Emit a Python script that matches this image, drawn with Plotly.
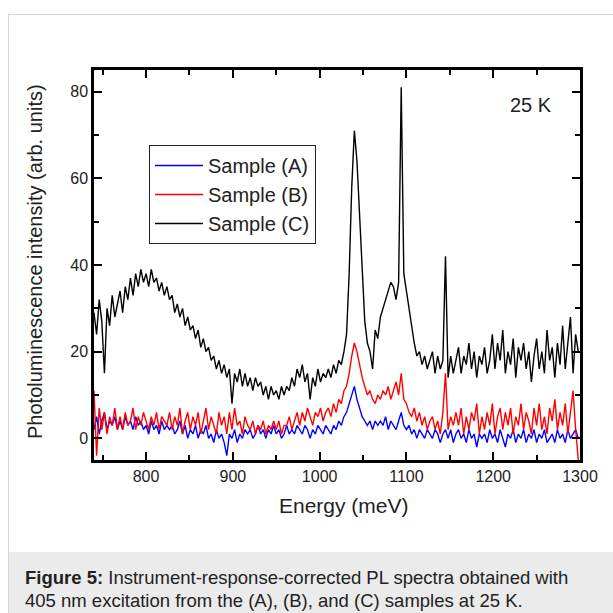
import plotly.graph_objects as go

# energy grid of the spectra (meV), 3 meV sampling
energy = list(range(740, 1299, 3))

# Sample (A) - blue
sample_a = [
    2, 5, 1, 4, 6, 2, 4, 3, 5, 2,
    4, 2, 5, 3, 4, 2, 5, 3, 4, 2,
    3, 1, 4, 2, 3, 1, 4, 2, 3, 2,
    3, 1, 2, 4, 1, 3, 0, 2, 1, 3,
    0, 2, 1, 3, 0, 1, -1, 2, 0, 1,
    -1, -4, 1, 0, 2, -1, 1, 0, 2, 1,
    2, 0, 1, 3, 1, 2, 0, 2, 1, 3,
    1, 2, 0, 1, 3, 1, 2, 1, 3, 2,
    1, 3, 2, 0, 2, 1, 3, 2, 1, 3,
    2, 1, 3, 2, 4, 3, 5, 6, 8, 10,
    12, 9, 7, 5, 4, 3, 4, 2, 4, 3,
    4, 3, 5, 2, 4, 3, 2, 4, 6, 3,
    2, 3, 1, 2, 0, 2, 1, 0, 2, 1,
    0, 2, 1, -1, 1, 2, 0, 2, -1, 1,
    2, 0, 1, -1, 2, 0, 1, -2, 1, 0,
    1, -1, 2, 0, 1, -1, 2, 0, -2, 1,
    0, 2, -1, 1, 0, 2, -1, 1, 0, 2,
    -1, 1, 0, 2, -1, 0, 1, -1, 2, 0,
    1, -1, 2, 0, 1, 2, 0,
]

# Sample (B) - red
sample_b = [
    11, -4, 7, 2, 6, 1, 5, 3, 7, 2,
    5, 2, 6, 3, 4, 7, 2, 5, 3, 6,
    4, 2, 5, 3, 6, 2, 5, 4, 3, 6,
    2, 5, 3, 7, 1, 4, 6, 2, 5, 3,
    6, 1, 4, 7, 2, 5, 3, 1, 6, 3,
    5, 1, 6, 2, 7, 3, 4, 1, 5, 3,
    2, 4, 1, 3, 2, 4, 1, 3, 2, 4,
    2, 4, 1, 3, 3, 5, 2, 4, 6, 3,
    6, 4, 7, 5, 3, 6, 5, 7, 4, 6,
    7, 5, 8, 6, 9, 8, 11, 12, 15, 19,
    22, 20, 17, 14, 12, 10, 11, 9, 8, 10,
    9, 11, 10, 12, 9, 11, 13, 10, 15, 9,
    8, 6, 5, 7, 4, 6, 3, 5, 2, 4,
    5, 2, 4, 1, 6, 15, 2, 5, 3, 6,
    3, 7, 1, 5, 2, 6, 4, 8, 1, 5,
    2, 6, 3, 8, 1, 5, 7, 2, 6, 3,
    7, 1, 5, 3, 8, 2, 6, 4, 1, 7,
    3, 8, 2, 5, 1, 7, 4, 9, 2, 6,
    3, 8, 1, 6, 11, 2, -5,
]

# Sample (C) - black
sample_c = [
    29, 24, 32, 27, 15, 30, 26, 33, 28, 31,
    34, 29, 35, 32, 37, 33, 38, 35, 39, 36,
    38, 35, 39, 36, 37, 34, 36, 33, 35, 32,
    33, 29, 31, 28, 30, 26, 28, 25, 26, 23,
    25, 21, 23, 20, 21, 18, 19, 16, 18, 15,
    17, 14, 16, 8, 15, 13, 16, 12, 15, 12,
    14, 11, 14, 12, 13, 10, 12, 9, 12, 10,
    11, 9, 12, 10, 12, 11, 14, 12, 16, 14,
    17, 13, 15, 9, 14, 12, 16, 13, 15, 14,
    16, 14, 17, 15, 18, 17, 20, 24, 38, 58,
    71, 64, 52, 38, 27, 22, 20, 16, 25, 23,
    28, 30, 32, 34, 36, 35, 32, 36, 81, 38,
    34, 29, 25, 22, 19, 20, 17, 19, 16, 18,
    20, 15, 19, 16, 18, 42, 14, 19, 15, 18,
    21, 15, 19, 17, 22, 16, 20, 14, 19, 17,
    21, 15, 18, 24, 16, 22, 18, 25, 15, 20,
    17, 23, 14, 21, 18, 22, 16, 20, 13, 19,
    23, 16, 20, 15, 25, 18, 21, 14, 22, 17,
    26, 16, 23, 28, 15, 24, 20,
]

series = [
    ("Sample (A)", sample_a, "#0000ff"),
    ("Sample (B)", sample_b, "#ff0000"),
    ("Sample (C)", sample_c, "#000000"),
]

W, H = 613, 613
L, R, T, B = 94, 33, 70, 153


def px_x(p):
    # pixel column -> paper x
    return (p - L) / (W - L - R)


def px_y(p):
    # pixel row -> paper y
    return (H - B - p) / (H - T - B)


fig = go.Figure()
for name, vals, col in series:
    fig.add_trace(go.Scatter(x=energy, y=vals, mode="lines", name=name,
                             line=dict(color=col, width=1.4)))

axis_common = dict(
    showline=True, linecolor="black", linewidth=2.5, mirror="ticks",
    ticks="inside", ticklen=8, tickwidth=2, tickcolor="black",
    showgrid=False, zeroline=False, tickangle=0,
    tickfont=dict(family="Liberation Sans, Arial", size=16, color="#222"),
)

fig.update_layout(
    width=W, height=H,
    margin=dict(l=L, r=R, t=T, b=B),
    paper_bgcolor="white", plot_bgcolor="white",
    font=dict(family="Liberation Sans, Arial", color="#222"),
    showlegend=True,
    legend=dict(x=px_x(149), y=px_y(145), xref="paper", yref="paper",
                xanchor="left", yanchor="top",
                bgcolor="white", bordercolor="#222", borderwidth=1,
                font=dict(size=20, color="#222"),
                itemwidth=48, tracegroupgap=0),
    xaxis=dict(range=[740, 1300], tickvals=[800, 900, 1000, 1100, 1200, 1300],
               minor=dict(dtick=50, tick0=0, ticks="inside", ticklen=5,
                          tickwidth=2, tickcolor="black"),
               **axis_common),
    yaxis=dict(range=[-5, 85], tickvals=[0, 20, 40, 60, 80],
               minor=dict(dtick=10, tick0=0, ticks="inside", ticklen=5,
                          tickwidth=2, tickcolor="black"),
               **axis_common),
)

# outer figure frame and caption box
fig.add_shape(type="rect", xref="paper", yref="paper",
              x0=px_x(8.5), x1=px_x(640), y0=px_y(14.5), y1=px_y(640),
              line=dict(color="#d6d6d6", width=1), fillcolor="rgba(0,0,0,0)",
              layer="below")
fig.add_shape(type="rect", xref="paper", yref="paper",
              x0=px_x(9), x1=px_x(640), y0=px_y(552), y1=px_y(640),
              line=dict(width=0), fillcolor="#ebebeb", layer="below")

fig.add_annotation(text="25 K", xref="x", yref="y", x=1243, y=77,
                   xanchor="center", yanchor="middle",
                   showarrow=False, font=dict(size=20, color="#222"))
fig.add_annotation(text="Photoluminescence intensity (arb. units)",
                   xref="paper", yref="paper", x=px_x(35), y=px_y(262),
                   xanchor="center", yanchor="middle",
                   textangle=-90, showarrow=False,
                   font=dict(size=20, color="#222"))
fig.add_annotation(text="Energy (meV)", xref="paper", yref="paper",
                   x=px_x(344), y=px_y(505), xanchor="center", yanchor="middle",
                   showarrow=False, font=dict(size=21, color="#222"))
fig.add_annotation(text="<b>Figure 5:</b> Instrument-response-corrected PL spectra obtained with",
                   xref="paper", yref="paper", x=px_x(23), y=px_y(577),
                   xanchor="left", yanchor="middle", showarrow=False,
                   font=dict(size=18.5, color="#222"))
fig.add_annotation(text="405 nm excitation from the (A), (B), and (C) samples at 25 K.",
                   xref="paper", yref="paper", x=px_x(23), y=px_y(600),
                   xanchor="left", yanchor="middle", showarrow=False,
                   font=dict(size=18.5, color="#222"))

fig.write_html("out.html", config={"displayModeBar": False},
               post_script="document.body.style.margin='0px';")
